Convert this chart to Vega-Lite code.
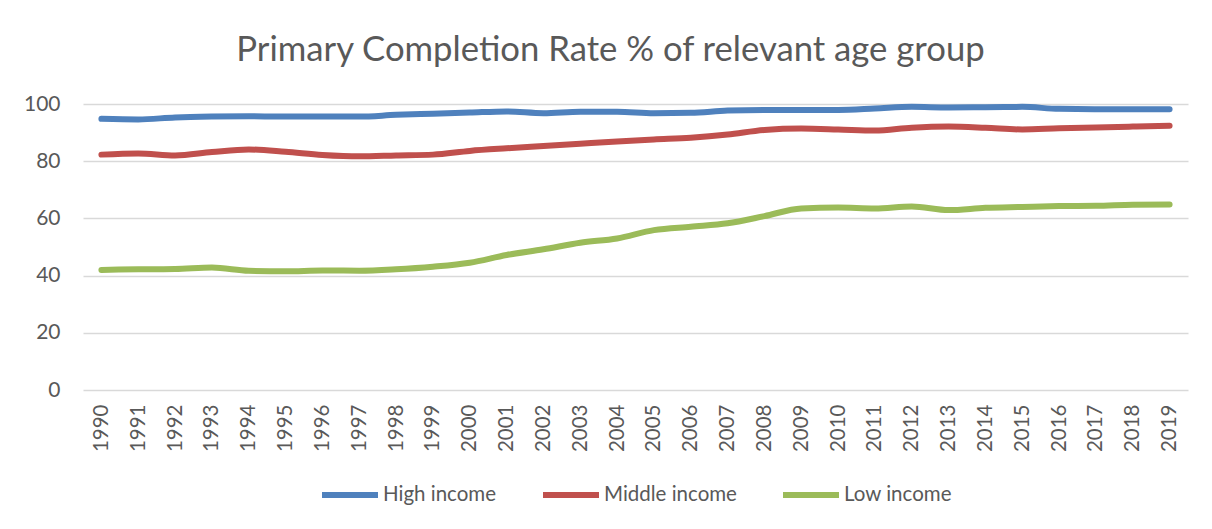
{
  "$schema": "https://vega.github.io/schema/vega-lite/v6.json",
  "width": 1105,
  "height": 286,
  "padding": {"left": 23, "top": 33, "right": 24, "bottom": 10},
  "background": "white",
  "title": {
    "text": "Primary Completion Rate % of relevant age group",
    "font": "Lato",
    "fontSize": 34.7,
    "fontWeight": "normal",
    "color": "#595959",
    "anchor": "middle",
    "frame": "bounds",
    "offset": 24,
    "dx": 5
  },
  "data": {
    "values": [
      {"year": "1990", "series": "High income", "value": 94.8},
      {"year": "1991", "series": "High income", "value": 94.6},
      {"year": "1992", "series": "High income", "value": 95.3},
      {"year": "1993", "series": "High income", "value": 95.6},
      {"year": "1994", "series": "High income", "value": 95.7},
      {"year": "1995", "series": "High income", "value": 95.6},
      {"year": "1996", "series": "High income", "value": 95.6},
      {"year": "1997", "series": "High income", "value": 95.6},
      {"year": "1998", "series": "High income", "value": 96.2},
      {"year": "1999", "series": "High income", "value": 96.6},
      {"year": "2000", "series": "High income", "value": 97.0},
      {"year": "2001", "series": "High income", "value": 97.4},
      {"year": "2002", "series": "High income", "value": 96.8},
      {"year": "2003", "series": "High income", "value": 97.3},
      {"year": "2004", "series": "High income", "value": 97.3},
      {"year": "2005", "series": "High income", "value": 96.8},
      {"year": "2006", "series": "High income", "value": 96.9},
      {"year": "2007", "series": "High income", "value": 97.7},
      {"year": "2008", "series": "High income", "value": 97.9},
      {"year": "2009", "series": "High income", "value": 97.9},
      {"year": "2010", "series": "High income", "value": 97.9},
      {"year": "2011", "series": "High income", "value": 98.4},
      {"year": "2012", "series": "High income", "value": 99.0},
      {"year": "2013", "series": "High income", "value": 98.8},
      {"year": "2014", "series": "High income", "value": 98.9},
      {"year": "2015", "series": "High income", "value": 99.0},
      {"year": "2016", "series": "High income", "value": 98.3},
      {"year": "2017", "series": "High income", "value": 98.2},
      {"year": "2018", "series": "High income", "value": 98.2},
      {"year": "2019", "series": "High income", "value": 98.2},
      {"year": "1990", "series": "Middle income", "value": 82.3},
      {"year": "1991", "series": "Middle income", "value": 82.7},
      {"year": "1992", "series": "Middle income", "value": 82.0},
      {"year": "1993", "series": "Middle income", "value": 83.2},
      {"year": "1994", "series": "Middle income", "value": 84.1},
      {"year": "1995", "series": "Middle income", "value": 83.3},
      {"year": "1996", "series": "Middle income", "value": 82.2},
      {"year": "1997", "series": "Middle income", "value": 81.7},
      {"year": "1998", "series": "Middle income", "value": 82.0},
      {"year": "1999", "series": "Middle income", "value": 82.3},
      {"year": "2000", "series": "Middle income", "value": 83.6},
      {"year": "2001", "series": "Middle income", "value": 84.5},
      {"year": "2002", "series": "Middle income", "value": 85.3},
      {"year": "2003", "series": "Middle income", "value": 86.1},
      {"year": "2004", "series": "Middle income", "value": 86.9},
      {"year": "2005", "series": "Middle income", "value": 87.6},
      {"year": "2006", "series": "Middle income", "value": 88.2},
      {"year": "2007", "series": "Middle income", "value": 89.3},
      {"year": "2008", "series": "Middle income", "value": 90.9},
      {"year": "2009", "series": "Middle income", "value": 91.4},
      {"year": "2010", "series": "Middle income", "value": 91.1},
      {"year": "2011", "series": "Middle income", "value": 90.7},
      {"year": "2012", "series": "Middle income", "value": 91.7},
      {"year": "2013", "series": "Middle income", "value": 92.1},
      {"year": "2014", "series": "Middle income", "value": 91.7},
      {"year": "2015", "series": "Middle income", "value": 91.1},
      {"year": "2016", "series": "Middle income", "value": 91.5},
      {"year": "2017", "series": "Middle income", "value": 91.8},
      {"year": "2018", "series": "Middle income", "value": 92.1},
      {"year": "2019", "series": "Middle income", "value": 92.4},
      {"year": "1990", "series": "Low income", "value": 42.0},
      {"year": "1991", "series": "Low income", "value": 42.2},
      {"year": "1992", "series": "Low income", "value": 42.3},
      {"year": "1993", "series": "Low income", "value": 42.8},
      {"year": "1994", "series": "Low income", "value": 41.7},
      {"year": "1995", "series": "Low income", "value": 41.5},
      {"year": "1996", "series": "Low income", "value": 41.8},
      {"year": "1997", "series": "Low income", "value": 41.7},
      {"year": "1998", "series": "Low income", "value": 42.2},
      {"year": "1999", "series": "Low income", "value": 43.1},
      {"year": "2000", "series": "Low income", "value": 44.5},
      {"year": "2001", "series": "Low income", "value": 47.2},
      {"year": "2002", "series": "Low income", "value": 49.2},
      {"year": "2003", "series": "Low income", "value": 51.5},
      {"year": "2004", "series": "Low income", "value": 53.0},
      {"year": "2005", "series": "Low income", "value": 55.9},
      {"year": "2006", "series": "Low income", "value": 57.1},
      {"year": "2007", "series": "Low income", "value": 58.3},
      {"year": "2008", "series": "Low income", "value": 60.8},
      {"year": "2009", "series": "Low income", "value": 63.5},
      {"year": "2010", "series": "Low income", "value": 63.8},
      {"year": "2011", "series": "Low income", "value": 63.5},
      {"year": "2012", "series": "Low income", "value": 64.2},
      {"year": "2013", "series": "Low income", "value": 62.9},
      {"year": "2014", "series": "Low income", "value": 63.7},
      {"year": "2015", "series": "Low income", "value": 64.0},
      {"year": "2016", "series": "Low income", "value": 64.3},
      {"year": "2017", "series": "Low income", "value": 64.4},
      {"year": "2018", "series": "Low income", "value": 64.8},
      {"year": "2019", "series": "Low income", "value": 64.9}
    ]
  },
  "mark": {"type": "line", "strokeWidth": 6, "strokeCap": "round", "strokeJoin": "round", "interpolate": "monotone"},
  "encoding": {
    "x": {
      "field": "year",
      "type": "ordinal",
      "scale": {"type": "point", "padding": 0.5},
      "axis": {
        "title": null,
        "labelAngle": 270,
        "labelFont": "Lato",
        "labelFontSize": 20.5,
        "labelColor": "#595959",
        "labelPadding": 14,
        "ticks": false,
        "tickSize": 0,
        "domain": false,
        "grid": false
      }
    },
    "y": {
      "field": "value",
      "type": "quantitative",
      "scale": {"domain": [0, 100], "nice": false},
      "axis": {
        "title": null,
        "values": [0, 20, 40, 60, 80, 100],
        "labelFont": "Lato",
        "labelFontSize": 21,
        "labelColor": "#595959",
        "labelPadding": 23,
        "ticks": false,
        "tickSize": 0,
        "domain": false,
        "grid": true,
        "gridColor": "#d9d9d9",
        "gridWidth": 1.5,
        "minExtent": 60,
        "maxExtent": 60
      }
    },
    "color": {
      "field": "series",
      "type": "nominal",
      "sort": ["High income", "Middle income", "Low income"],
      "scale": {"domain": ["High income", "Middle income", "Low income"], "range": ["#4f81bd", "#c0504d", "#9bbb59"]},
      "legend": {
        "title": null,
        "orient": "bottom",
        "direction": "horizontal",
        "symbolType": "stroke",
        "symbolSize": 3136,
        "symbolStrokeWidth": 6,
        "labelFont": "Lato",
        "labelFontSize": 20.5,
        "labelColor": "#595959",
        "labelOffset": 2,
        "columnPadding": 34,
        "offset": 12
      }
    }
  },
  "config": {
    "view": {"stroke": null},
    "legend": {"layout": {"bottom": {"anchor": "middle"}}}
  }
}
